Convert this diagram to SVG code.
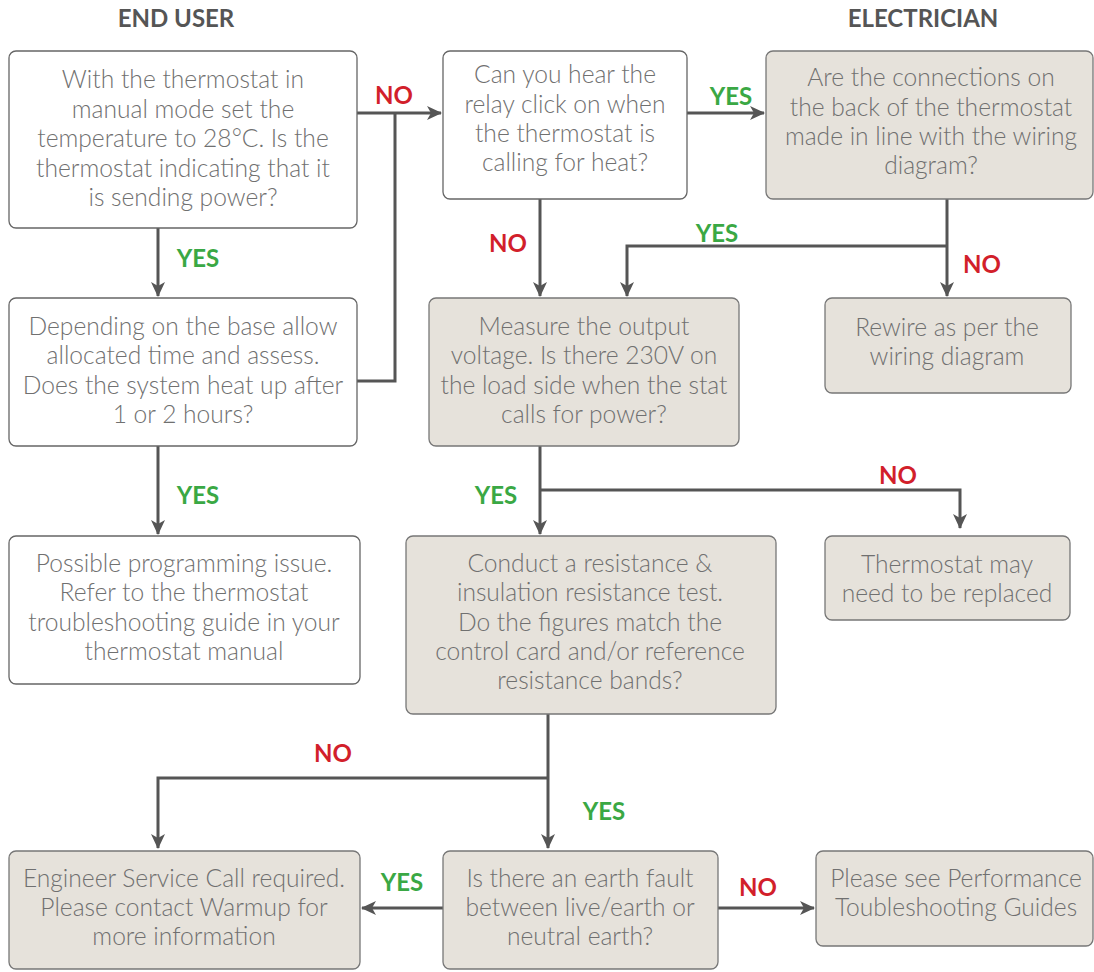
<svg xmlns="http://www.w3.org/2000/svg" width="1094" height="972" viewBox="0 0 1094 972">
<defs>
<marker id="ah" markerUnits="userSpaceOnUse" markerWidth="16" markerHeight="16" viewBox="0 0 16 16" refX="14" refY="8" orient="auto">
<path d="M0,1 L15,8 L0,15 L4,8 Z" fill="#555"/>
</marker>
<style>
.box{fill:#fff;stroke:#666;stroke-width:1.3}
.fill{fill:#e6e2db;stroke:#777;stroke-width:1.3}
.t{font-family:Lato,"Liberation Sans",sans-serif;font-weight:300;font-size:24.6px;fill:#707070;text-anchor:middle}
.hd{font-family:Lato,"Liberation Sans",sans-serif;font-weight:700;font-size:24px;fill:#555;text-anchor:middle}
.y{font-family:Lato,"Liberation Sans",sans-serif;font-weight:700;font-size:24px;fill:#3aa844;text-anchor:middle}
.n{font-family:Lato,"Liberation Sans",sans-serif;font-weight:700;font-size:24px;fill:#d21f2b;text-anchor:middle}
.c{fill:none;stroke:#555;stroke-width:3}
</style>
</defs>
<g id="headers">
<text class="hd" x="176" y="27">END USER</text>
<text class="hd" x="923" y="27">ELECTRICIAN</text>
</g>
<g id="connectors">
<path class="c" d="M357,113 H441" marker-end="url(#ah)"/>
<path class="c" d="M357,381 H395 V113"/>
<path class="c" d="M158,228 V296" marker-end="url(#ah)"/>
<path class="c" d="M158,446 V534" marker-end="url(#ah)"/>
<path class="c" d="M687,113 H764" marker-end="url(#ah)"/>
<path class="c" d="M540,199 V296" marker-end="url(#ah)"/>
<path class="c" d="M947,199 V296" marker-end="url(#ah)"/>
<path class="c" d="M947,246 H627 V296" marker-end="url(#ah)"/>
<path class="c" d="M540,446 V534" marker-end="url(#ah)"/>
<path class="c" d="M540,490 H960 V528" marker-end="url(#ah)"/>
<path class="c" d="M548,714 V848" marker-end="url(#ah)"/>
<path class="c" d="M548,778 H158 V848" marker-end="url(#ah)"/>
<path class="c" d="M443,908 H362" marker-end="url(#ah)"/>
<path class="c" d="M718,908 H814" marker-end="url(#ah)"/>
<text class="n" x="394" y="104">NO</text>
<text class="y" x="198" y="267">YES</text>
<text class="y" x="198" y="504">YES</text>
<text class="y" x="731" y="105">YES</text>
<text class="n" x="508" y="252">NO</text>
<text class="n" x="982" y="273">NO</text>
<text class="y" x="717" y="242">YES</text>
<text class="y" x="496" y="504">YES</text>
<text class="n" x="898" y="484">NO</text>
<text class="y" x="604" y="820">YES</text>
<text class="n" x="333" y="762">NO</text>
<text class="y" x="402" y="891">YES</text>
<text class="n" x="758" y="896">NO</text>
</g>
<g id="n1">
<rect class="box" x="9" y="51" width="348" height="177" rx="7"/>
<text class="t" x="183" y="88">With the thermostat in</text>
<text class="t" x="183" y="118">manual mode set the</text>
<text class="t" x="183" y="147">temperature to 28°C. Is the</text>
<text class="t" x="183" y="177">thermostat indicating that it</text>
<text class="t" x="183" y="206">is sending power?</text>
</g>
<g id="n2">
<rect class="box" x="443" y="51" width="244" height="148" rx="7"/>
<text class="t" x="565" y="83">Can you hear the</text>
<text class="t" x="565" y="113">relay click on when</text>
<text class="t" x="565" y="142">the thermostat is</text>
<text class="t" x="565" y="171">calling for heat?</text>
</g>
<g id="n3">
<rect class="fill" x="766" y="51" width="327" height="148" rx="7"/>
<text class="t" x="931" y="86">Are the connections on</text>
<text class="t" x="931" y="116">the back of the thermostat</text>
<text class="t" x="931" y="145">made in line with the wiring</text>
<text class="t" x="931" y="174">diagram?</text>
</g>
<g id="n4">
<rect class="box" x="9" y="298" width="348" height="148" rx="7"/>
<text class="t" x="183" y="335">Depending on the base allow</text>
<text class="t" x="183" y="364">allocated time and assess.</text>
<text class="t" x="183" y="394">Does the system heat up after</text>
<text class="t" x="183" y="423">1 or 2 hours?</text>
</g>
<g id="n5">
<rect class="fill" x="429" y="298" width="310" height="148" rx="7"/>
<text class="t" x="584" y="335">Measure the output</text>
<text class="t" x="584" y="364">voltage. Is there 230V on</text>
<text class="t" x="584" y="394">the load side when the stat</text>
<text class="t" x="584" y="423">calls for power?</text>
</g>
<g id="n6">
<rect class="fill" x="825" y="298" width="246" height="95" rx="7"/>
<text class="t" x="947" y="336">Rewire as per the</text>
<text class="t" x="947" y="365">wiring diagram</text>
</g>
<g id="n7">
<rect class="box" x="9" y="536" width="351" height="148" rx="7"/>
<text class="t" x="184" y="572">Possible programming issue.</text>
<text class="t" x="184" y="601">Refer to the thermostat</text>
<text class="t" x="184" y="631">troubleshooting guide in your</text>
<text class="t" x="184" y="660">thermostat manual</text>
</g>
<g id="n8">
<rect class="fill" x="406" y="536" width="370" height="178" rx="7"/>
<text class="t" x="590" y="572">Conduct a resistance &amp;</text>
<text class="t" x="590" y="601">insulation resistance test.</text>
<text class="t" x="590" y="631">Do the figures match the</text>
<text class="t" x="590" y="660">control card and/or reference</text>
<text class="t" x="590" y="689">resistance bands?</text>
</g>
<g id="n9">
<rect class="fill" x="825" y="536" width="245" height="84" rx="7"/>
<text class="t" x="947" y="573">Thermostat may</text>
<text class="t" x="947" y="602">need to be replaced</text>
</g>
<g id="n10">
<rect class="fill" x="9" y="851" width="351" height="118" rx="7"/>
<text class="t" x="184" y="887">Engineer Service Call required.</text>
<text class="t" x="184" y="916">Please contact Warmup for</text>
<text class="t" x="184" y="945">more information</text>
</g>
<g id="n11">
<rect class="fill" x="443" y="851" width="275" height="118" rx="7"/>
<text class="t" x="580" y="887">Is there an earth fault</text>
<text class="t" x="580" y="916">between live/earth or</text>
<text class="t" x="580" y="945">neutral earth?</text>
</g>
<g id="n12">
<rect class="fill" x="816" y="851" width="277" height="95" rx="7"/>
<text class="t" x="956" y="887">Please see Performance</text>
<text class="t" x="956" y="916">Toubleshooting Guides</text>
</g>
</svg>
